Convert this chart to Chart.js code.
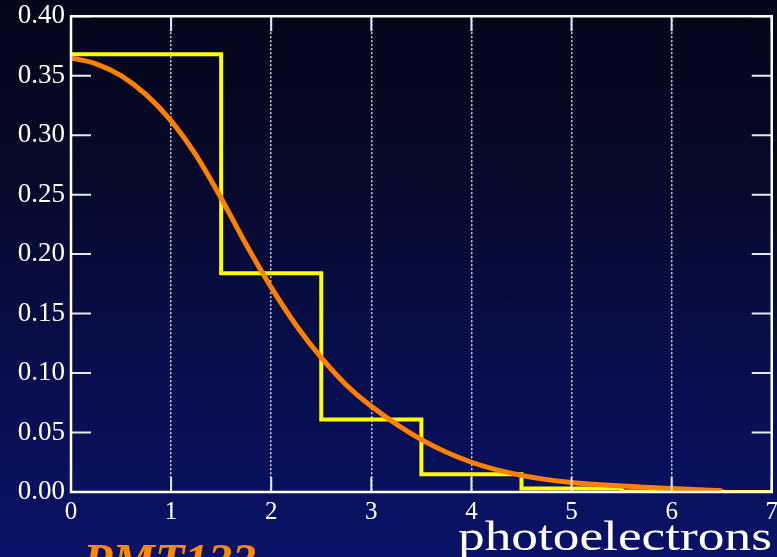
<!DOCTYPE html>
<html>
<head>
<meta charset="utf-8">
<script src="https://cdn.jsdelivr.net/npm/chart.js@4"></script>
<style>
  html, body { margin: 0; padding: 0; }
  body {
    width: 777px; height: 557px; overflow: hidden; position: relative;
    background: linear-gradient(to bottom, #05051a 0%, #060929 30%, #080e4c 65%, #0a1268 100%);
  }
  #wrap { position: absolute; left: 0; top: -6px; width: 783px; height: 563px; }
  .lbl { position: absolute; font-family: "Liberation Serif", "DejaVu Serif", serif; white-space: nowrap; }
  #xtitle { left: 458px; top: 511px; font-size: 43px; color: #fff; transform: scaleX(1.24); transform-origin: left top; }
  #pmt { left: 83px; top: 533px; font-size: 48px; color: #ff8a00; font-style: italic; font-weight: bold; }
</style>
</head>
<body>
<div id="wrap"><canvas id="chart"></canvas></div>
<div class="lbl" id="pmt">PMT133</div>
<div class="lbl" id="xtitle">photoelectrons</div>
<script>
// Histogram (yellow steps), one value per photoelectron count
const histX = [0, 1, 2, 3, 4, 5, 6, 7];
const histY = [0.368, 0.368, 0.184, 0.061, 0.015, 0.003, 0.0005, 0.0001];

// Smooth curve (orange)
const curveX = [0, 0.25, 0.5, 0.75, 1.0, 1.25, 1.5, 1.75, 2.0, 2.25, 2.5, 2.75, 3.0, 3.5, 4.0, 4.5, 5.0, 5.5, 6.0, 6.5];
const curveY = [0.365, 0.360, 0.350, 0.334, 0.312, 0.283, 0.247, 0.208, 0.172, 0.140, 0.113, 0.090, 0.072, 0.044, 0.025, 0.014, 0.008, 0.005, 0.003, 0.001];

const xTicks = [0, 1, 2, 3, 4, 5, 6, 7];
const yTicks = [0, 0.05, 0.10, 0.15, 0.20, 0.25, 0.30, 0.35, 0.40];

// frame + inward ticks on all four sides
const framePlugin = {
  id: 'frame',
  afterDatasetsDraw(chart) {
    const ctx = chart.ctx;
    const a = chart.chartArea;
    const xs = chart.scales.x, ys = chart.scales.y;
    ctx.save();
    ctx.strokeStyle = '#e8e8f0';
    ctx.lineWidth = 2;
    ctx.beginPath();
    xTicks.forEach(function(v) {
      const px = xs.getPixelForValue(v);
      ctx.moveTo(px, a.bottom); ctx.lineTo(px, a.bottom - 15);
      ctx.moveTo(px, a.top); ctx.lineTo(px, a.top + 15);
    });
    yTicks.forEach(function(v) {
      const py = ys.getPixelForValue(v);
      ctx.moveTo(a.left, py); ctx.lineTo(a.left + 20, py);
      ctx.moveTo(a.right, py); ctx.lineTo(a.right - 20, py);
    });
    ctx.stroke();
    ctx.strokeStyle = '#ffffff';
    ctx.lineWidth = 2.5;
    ctx.strokeRect(a.left, a.top, a.right - a.left, a.bottom - a.top);
    ctx.restore();
  }
};

const ctx = document.getElementById('chart').getContext('2d');
new Chart(ctx, {
  type: 'line',
  data: {
    datasets: [{
      label: 'histogram',
      data: histX.map(function(x, i) { return { x: x, y: histY[i] }; }),
      stepped: 'middle',
      borderColor: '#ffff00',
      borderWidth: 4,
      pointRadius: 0,
      fill: false,
      order: 1
    }, {
      label: 'curve',
      data: curveX.map(function(x, i) { return { x: x, y: curveY[i] }; }),
      borderColor: '#ff7f00',
      borderWidth: 5,
      pointRadius: 0,
      cubicInterpolationMode: 'monotone',
      fill: false,
      order: 0
    }]
  },
  options: {
    responsive: true,
    maintainAspectRatio: false,
    animation: false,
    layout: { padding: { top: 15, right: 6, left: 0, bottom: 0 } },
    plugins: { legend: { display: false }, tooltip: { enabled: false } },
    scales: {
      x: {
        type: 'linear',
        min: 0, max: 7,
        afterFit: function(s) { s.height = 65; },
        afterBuildTicks: function(s) { s.ticks = xTicks.map(function(v) { return { value: v }; }); },
        ticks: {
          color: '#ffffff',
          padding: 5,
          maxRotation: 0,
          font: { family: '"Liberation Serif", "DejaVu Serif", serif', size: 25 },
          callback: function(v) { return String(v); }
        },
        grid: { color: 'rgba(255,255,255,0.85)', lineWidth: 1.5, drawTicks: false },
        border: { display: false, dash: [2, 2] }
      },
      y: {
        min: 0, max: 0.4,
        afterFit: function(s) { s.width = 71; },
        afterBuildTicks: function(s) { s.ticks = yTicks.map(function(v) { return { value: v }; }); },
        ticks: {
          color: '#ffffff',
          padding: 6,
          font: { family: '"Liberation Serif", "DejaVu Serif", serif', size: 27 },
          callback: function(v) { return Number(v).toFixed(2); }
        },
        grid: { display: false, drawTicks: false },
        border: { display: false }
      }
    }
  },
  plugins: [framePlugin]
});
</script>
</body>
</html>
